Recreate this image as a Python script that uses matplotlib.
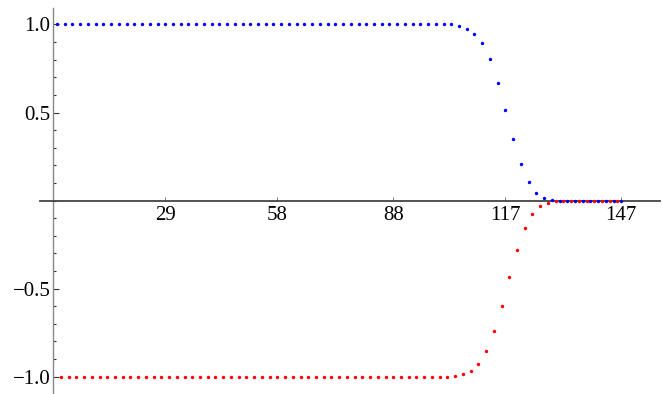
import numpy as np
import matplotlib
matplotlib.use("Agg")
from matplotlib import pyplot as plt
from matplotlib.ticker import MultipleLocator

# blue series at odd x (1..147), red series at even x (2..146)
x_blue = list(range(1, 148, 2))
y_blue = [1.0] * 52 + [0.99, 0.973, 0.945, 0.893, 0.802, 0.669, 0.512, 0.349,
                       0.207, 0.104, 0.041, 0.012, 0.003] + [0.0] * 9

x_red = list(range(2, 147, 2))
y_red = [-1.0] * 51 + [-0.997, -0.988, -0.967, -0.929, -0.855, -0.743, -0.599,
                       -0.433, -0.28, -0.155, -0.075, -0.03, -0.012, -0.005] + [0.0] * 8

xticks = [29, 58, 88, 117, 147]
yticks = [-1.0, -0.5, 0.5, 1.0]

plt.rcParams['font.family'] = ['Liberation Serif', 'DejaVu Serif']

fig = plt.figure(figsize=(6.62, 3.94), dpi=100)
ax = fig.add_axes([40/662, 0.0, 620/662, (394-8.3)/394])

ax.scatter(x_blue, y_blue, s=6, color=(0, 0, 1), linewidths=0, zorder=3)
ax.scatter(x_red, y_red, s=6, color=(1, 0, 0), linewidths=0, zorder=3)

ax.set_xlim(-3.4, 157)
ax.set_ylim(-1.099, 1.092)

for s in ['top', 'right']:
    ax.spines[s].set_visible(False)
ax.spines['left'].set_position(('data', 0))
ax.spines['bottom'].set_position(('data', 0))
ax.spines['left'].set_color('#888888')
ax.spines['left'].set_linewidth(1.0)
ax.spines['bottom'].set_color('#444444')
ax.spines['bottom'].set_linewidth(1.3)

ax.set_xticks(xticks)
ax.set_xticklabels([str(t) for t in xticks])
ax.set_yticks(yticks)
ax.set_yticklabels(['\u22121.0', '\u22120.5', '0.5', '1.0'])
ax.yaxis.set_minor_locator(MultipleLocator(0.1))

ax.tick_params(axis='x', direction='in', length=3, width=0.6, color='#666666',
               labelsize=15, pad=4)
ax.tick_params(axis='y', which='major', direction='in', length=4, width=0.8,
               color='#333333', labelsize=15, pad=2)
ax.tick_params(axis='y', which='minor', direction='in', length=2.5, width=0.8,
               color='#333333')

fig.savefig("out.png", dpi=100)
